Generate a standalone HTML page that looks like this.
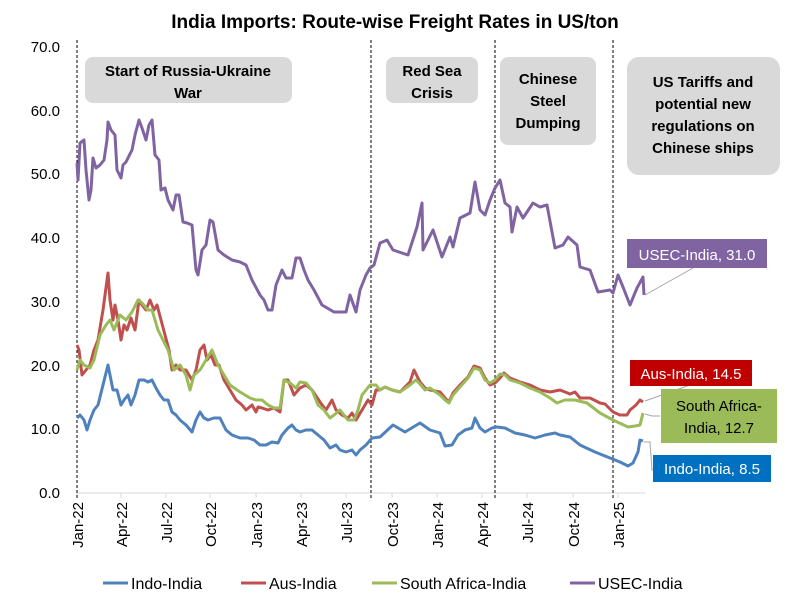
<!DOCTYPE html>
<html><head><meta charset="utf-8"><style>
body{margin:0;background:#fff;}
svg text{font-family:"Liberation Sans",sans-serif;}
</style></head><body>
<svg width="790" height="603" viewBox="0 0 790 603" xmlns="http://www.w3.org/2000/svg">
<text x="395" y="28" text-anchor="middle" font-size="19" font-weight="bold" fill="#000">India Imports:  Route-wise Freight Rates in US/ton</text>
<g font-size="15" fill="#000" text-anchor="end">
<text x="60" y="52">70.0</text><text x="60" y="116">60.0</text><text x="60" y="179">50.0</text>
<text x="60" y="243">40.0</text><text x="60" y="307">30.0</text><text x="60" y="371">20.0</text>
<text x="60" y="434">10.0</text><text x="60" y="498">0.0</text>
</g>
<line x1="77" y1="493" x2="645" y2="493" stroke="#d9d9d9" stroke-width="1"/>
<g stroke="#d9d9d9"><line x1="77" y1="493" x2="77" y2="498"/><line x1="121" y1="493" x2="121" y2="498"/><line x1="166" y1="493" x2="166" y2="498"/><line x1="210" y1="493" x2="210" y2="498"/><line x1="256" y1="493" x2="256" y2="498"/><line x1="301" y1="493" x2="301" y2="498"/><line x1="346" y1="493" x2="346" y2="498"/><line x1="392" y1="493" x2="392" y2="498"/><line x1="437" y1="493" x2="437" y2="498"/><line x1="482" y1="493" x2="482" y2="498"/><line x1="527" y1="493" x2="527" y2="498"/><line x1="573" y1="493" x2="573" y2="498"/><line x1="618" y1="493" x2="618" y2="498"/></g>
<g font-size="15" fill="#000" text-anchor="end">
<text transform="translate(83,502) rotate(-90)">Jan-22</text>
<text transform="translate(127,502) rotate(-90)">Apr-22</text>
<text transform="translate(172,502) rotate(-90)">Jul-22</text>
<text transform="translate(216,502) rotate(-90)">Oct-22</text>
<text transform="translate(262,502) rotate(-90)">Jan-23</text>
<text transform="translate(307,502) rotate(-90)">Apr-23</text>
<text transform="translate(352,502) rotate(-90)">Jul-23</text>
<text transform="translate(398,502) rotate(-90)">Oct-23</text>
<text transform="translate(443,502) rotate(-90)">Jan-24</text>
<text transform="translate(488,502) rotate(-90)">Apr-24</text>
<text transform="translate(533,502) rotate(-90)">Jul-24</text>
<text transform="translate(579,502) rotate(-90)">Oct-24</text>
<text transform="translate(624,502) rotate(-90)">Jan-25</text>
</g>
<g stroke="#000" stroke-width="1" stroke-dasharray="3,2"><line x1="77" y1="40" x2="77" y2="498"/><line x1="371" y1="40" x2="371" y2="498"/><line x1="495" y1="40" x2="495" y2="498"/><line x1="613" y1="40" x2="613" y2="498"/></g>
<g fill="#d9d9d9"><rect x="85" y="57" width="207" height="46" rx="8"/><rect x="386" y="57" width="92" height="46" rx="8"/><rect x="500" y="57" width="96" height="88" rx="8"/><rect x="627" y="57" width="153" height="118" rx="12"/></g>
<g font-size="15" font-weight="bold" text-anchor="middle" fill="#000">
<text x="188" y="76">Start of Russia-Ukraine</text><text x="188" y="98">War</text>
<text x="432" y="76">Red Sea</text><text x="432" y="98">Crisis</text>
<text x="548" y="84">Chinese</text><text x="548" y="106">Steel</text><text x="548" y="128">Dumping</text>
<text x="703" y="87">US Tariffs and</text><text x="703" y="109">potential new</text><text x="703" y="131">regulations on</text><text x="703" y="153">Chinese ships</text>
</g>
<g fill="none" stroke-width="3" stroke-linejoin="round">
<polyline stroke="#8064a2" points="77,163 78,180 80,143 84,140 86,170 89,200 91,190 93,158 96,168 100,165 104,160 107,140 108,122 111,130 115,135 117,170 121,178 123,165 126,162 132,150 135,135 139,120 142,128 146,140 149,125 152,120 155,155 159,160 161,190 165,188 168,200 173,210 176,195 179,195 183,222 187,223 192,225 196,270 198,275 202,250 206,245 210,220 213,222 218,250 224,255 232,260 240,262 246,265 252,280 260,295 264,300 268,310 272,310 276,285 282,270 286,278 292,278 296,258 300,258 304,270 308,280 314,290 322,305 334,312 346,312 350,295 356,312 360,290 366,275 370,268 374,265 380,243 387,240 393,250 408,255 417,227 422,203 423,250 433,230 442,257 450,237 453,247 460,218 470,213 475,182 480,210 485,215 490,200 495,188 500,180 505,203 510,207 512,232 517,207 523,218 533,203 540,207 547,205 555,248 563,245 568,237 577,245 580,267 590,270 598,292 610,290 613,293 618,275 623,287 630,305 637,288 643,277 644,295"/>
<polyline stroke="#c0504d" points="77,345 79,350 82,375 86,370 90,365 94,350 98,340 103,310 108,273 110,300 113,320 115,305 118,320 121,340 124,325 127,330 131,318 135,330 139,300 142,305 146,310 150,300 154,310 157,305 161,320 165,335 169,350 172,370 176,365 180,370 186,370 192,380 196,370 200,350 204,345 207,360 211,355 215,365 219,365 224,380 230,390 236,400 242,405 246,410 252,405 256,412 258,407 262,408 268,410 274,408 280,412 284,380 288,380 294,395 300,388 306,385 312,390 320,402 326,410 332,400 336,410 342,415 348,418 352,413 356,420 362,410 368,400 372,405 376,390 380,390 385,387 392,390 400,392 410,382 414,370 420,382 425,388 430,390 440,392 445,398 449,402 453,393 460,385 468,377 474,366 480,368 485,378 490,385 495,383 500,378 504,373 510,378 520,382 530,385 540,390 550,392 560,390 570,394 575,392 580,398 590,398 600,403 605,404 613,412 620,415 627,415 630,410 636,405 640,400 643,402"/>
<polyline stroke="#9bbb59" points="77,370 80,360 84,365 90,368 94,360 100,335 106,325 110,320 114,330 120,315 126,320 132,312 138,300 142,303 148,310 152,310 158,330 164,342 168,350 174,370 180,365 186,375 190,390 194,375 200,370 206,360 212,350 218,365 224,375 230,385 240,392 250,398 256,400 262,400 268,405 274,408 280,408 284,380 290,383 296,388 300,382 306,383 312,390 318,405 324,410 330,418 334,415 340,410 348,420 354,420 358,410 362,395 370,385 376,385 380,390 385,387 392,390 400,392 410,385 416,380 420,384 425,390 430,388 440,395 445,400 449,403 453,395 460,387 468,378 474,368 480,370 485,380 490,383 495,380 500,374 505,375 510,380 520,383 530,388 540,392 550,398 557,403 565,400 575,400 587,403 600,413 613,420 628,427 635,426 640,425 643,413"/>
<polyline stroke="#4f81bd" points="77,418 80,415 84,420 87,430 90,420 94,410 98,405 103,385 108,365 110,375 113,390 117,390 121,405 124,400 128,395 131,405 135,395 139,380 144,380 148,382 152,380 156,388 160,395 164,400 168,400 172,412 176,415 180,420 186,425 192,432 196,420 200,412 204,418 208,420 214,418 220,418 226,430 232,435 240,438 248,438 254,440 260,445 266,445 272,442 278,443 282,435 288,428 292,425 296,430 300,432 306,430 312,430 318,435 324,440 330,448 336,445 340,450 346,452 352,450 356,455 360,450 366,445 372,438 380,437 393,425 405,432 420,423 430,430 440,433 445,446 452,445 458,435 465,430 472,428 475,418 480,428 485,432 492,428 497,427 505,428 515,433 525,435 535,438 545,435 555,433 560,435 570,437 580,445 595,452 610,458 620,462 628,466 633,463 638,452 640,440 643,441"/>
</g>
<g stroke="#a6a6a6" stroke-width="1" fill="none">
<line x1="645" y1="295" x2="693" y2="268"/><line x1="645" y1="401" x2="690" y2="385"/><polyline points="645,414 652,416 660,416"/><polyline points="644,442 650,442 652,470 655,470"/>
</g>
<rect x="627" y="239" width="140" height="29" fill="#8064a2"/>
<text x="697" y="260" text-anchor="middle" font-size="15" fill="#fff">USEC-India, 31.0</text>
<rect x="630" y="360" width="122" height="26" fill="#c00000"/>
<text x="691" y="379" text-anchor="middle" font-size="15" fill="#fff">Aus-India, 14.5</text>
<rect x="661" y="389" width="116" height="54" fill="#9bbb59"/>
<text x="719" y="411" text-anchor="middle" font-size="15" fill="#000">South Africa-</text>
<text x="719" y="433" text-anchor="middle" font-size="15" fill="#000">India, 12.7</text>
<rect x="653" y="455" width="118" height="27" fill="#0070c0"/>
<text x="712" y="474" text-anchor="middle" font-size="15" fill="#fff">Indo-India, 8.5</text>
<g stroke-width="3">
<line x1="103" y1="583" x2="128" y2="583" stroke="#4f81bd"/>
<line x1="241" y1="583" x2="266" y2="583" stroke="#c0504d"/>
<line x1="372" y1="583" x2="397" y2="583" stroke="#9bbb59"/>
<line x1="570" y1="583" x2="595" y2="583" stroke="#8064a2"/>
</g>
<g font-size="16" fill="#000">
<text x="131" y="589">Indo-India</text><text x="269" y="589">Aus-India</text>
<text x="400" y="589">South Africa-India</text><text x="598" y="589">USEC-India</text>
</g>
</svg>
</body></html>
